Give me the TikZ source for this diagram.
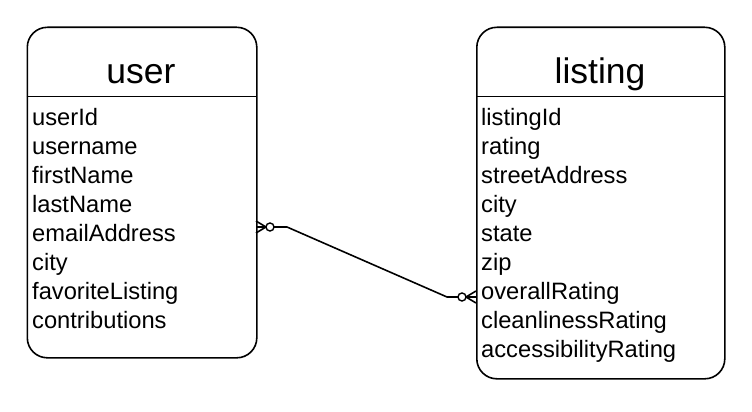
\documentclass[tikz,border=0pt]{standalone}
\usepackage{fontspec}
\setmainfont{Liberation Sans}
\begin{document}
\begin{tikzpicture}[x=1pt,y=-1pt,
  entity/.style={draw=black,line width=1.6pt,rounded corners=20pt,inner sep=0pt,anchor=north west},
  ttl/.style={font=\fontsize{35.5}{40}\selectfont,anchor=base,inner sep=0pt},
  attr/.style={font=\fontsize{23.7}{28}\selectfont,anchor=base west,inner sep=0pt},
  conn/.style={line width=1.6pt,line join=round}]
\useasboundingbox (0,0) rectangle (752,412);
% user entity
\node[entity,minimum width=229.5pt,minimum height=330.5pt] (user) at (26.5,26.5) {};
\draw[line width=1.6pt] (26.5,96.5) coordinate (uh1) -- (256,96.5) coordinate (uh2);
\node[ttl] (usert) at (141,83) {user};
\foreach \t [count=\i from 0] in {userId,username,firstName,lastName,emailAddress,city,favoriteListing,contributions}
  \node[attr] (ua\i) at (32,125+29*\i) {\t};
% listing entity
\node[entity,minimum width=248pt,minimum height=351.5pt] (listing) at (476,26.5) {};
\draw[line width=1.6pt] (476,96.5) coordinate (lh1) -- (724,96.5) coordinate (lh2);
\node[ttl] (listingt) at (600,83) {listing};
\foreach \t [count=\i from 0] in {listingId,rating,streetAddress,city,state,zip,overallRating,cleanlinessRating,accessibilityRating}
  \node[attr] (la\i) at (481,125+29*\i) {\t};
% connector
\coordinate (ue) at (256,227);
\coordinate (uc) at (270,227);
\coordinate (ub) at (287,227);
\coordinate (lb) at (447,297);
\coordinate (lc) at (462,297);
\coordinate (le) at (476,297);
\draw[conn] ([xshift=4pt]uc) -- (ub) -- (lb) -- ([xshift=-4pt]lc);
\draw[line width=1.4pt] (uc) circle (4pt);
\draw[line width=1.4pt] (lc) circle (4pt);
\draw[conn] ([yshift=-6pt]ue) -- ([xshift=-4pt]uc) -- ([yshift=6pt]ue);
\draw[conn] (ue) -- ([xshift=-4pt]uc);
\draw[conn] ([yshift=-6pt]le) -- ([xshift=4pt]lc) -- ([yshift=6pt]le);
\draw[conn] (le) -- ([xshift=4pt]lc);
\end{tikzpicture}
\end{document}
